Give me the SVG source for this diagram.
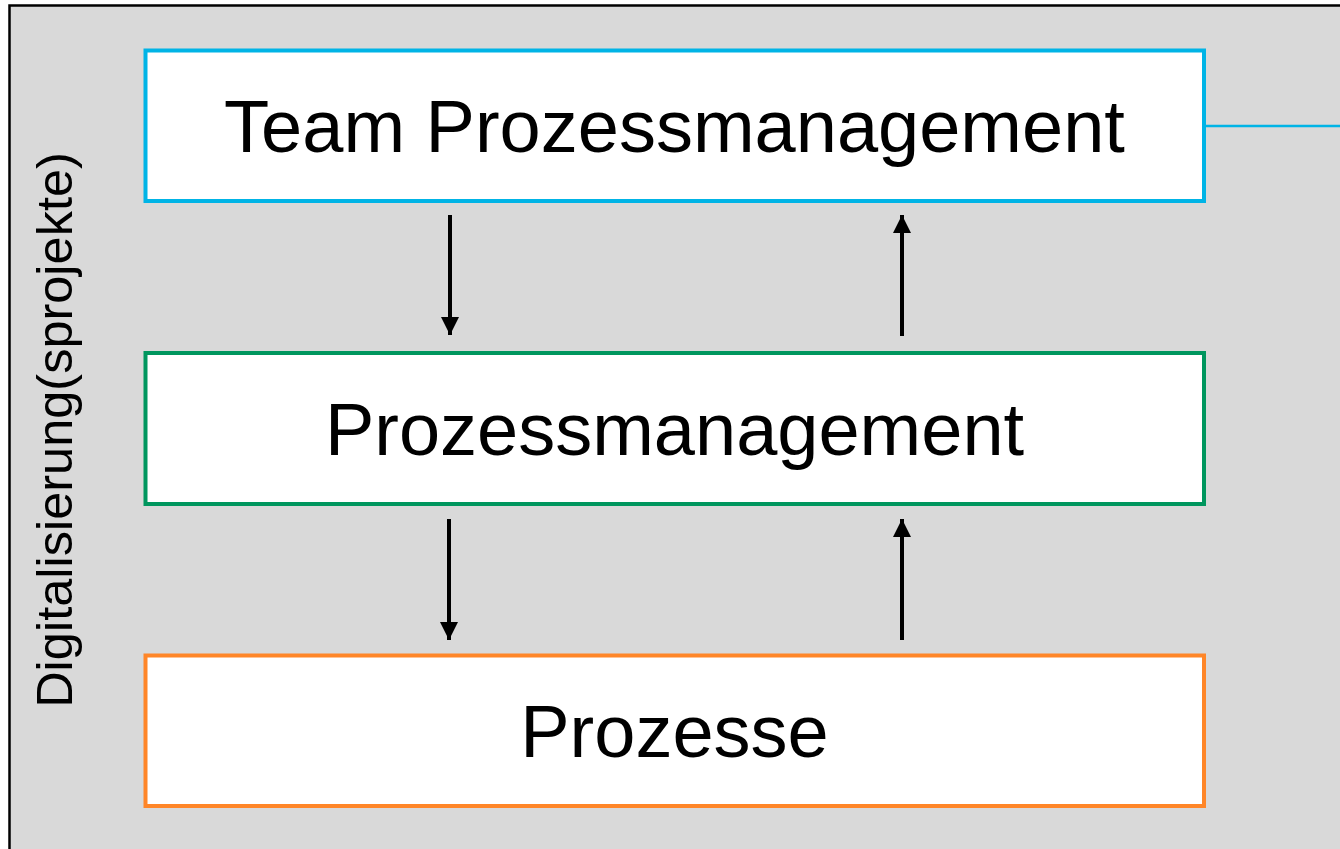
<svg xmlns="http://www.w3.org/2000/svg" width="1340" height="849" viewBox="0 0 1340 849">
  <style>
    .box { fill: #FFFFFF; stroke-width: 4; }
    .lbl { font-family: "Liberation Sans", Arial, sans-serif; font-size: 74px; fill: #000000; text-anchor: middle; }
    .side { font-family: "Liberation Sans", Arial, sans-serif; font-size: 50.5px; fill: #000000; text-anchor: middle; }
    .arr { stroke: #000000; stroke-width: 4; fill: none; }
  </style>
  <defs>
    <marker id="ah" viewBox="0 0 10 10" refX="10" refY="5" markerUnits="userSpaceOnUse" markerWidth="18" markerHeight="18" orient="auto">
      <path d="M0,0 L10,5 L0,10 Z" fill="#000000"/>
    </marker>
  </defs>
  <g id="frame">
    <rect x="9.5" y="5.5" width="1340" height="860" fill="#D9D9D9" stroke="#000000" stroke-width="2.5"/>
    <text class="side" transform="translate(72,430) rotate(-90)">Digitalisierung(sprojekte)</text>
  </g>
  <g id="connectors">
    <line x1="1206" y1="126" x2="1340" y2="126" stroke="#00B4E6" stroke-width="2.5"/>
    <line class="arr" x1="450" y1="215" x2="450" y2="335" marker-end="url(#ah)"/>
    <line class="arr" x1="902" y1="336" x2="902" y2="215" marker-end="url(#ah)"/>
    <line class="arr" x1="449" y1="519" x2="449" y2="640" marker-end="url(#ah)"/>
    <line class="arr" x1="902" y1="640" x2="902" y2="519" marker-end="url(#ah)"/>
  </g>
  <g id="team">
    <rect class="box" x="145.5" y="50.5" width="1058.5" height="150.5" stroke="#00B4E6"/>
    <text class="lbl" x="674.5" y="152">Team Prozessmanagement</text>
  </g>
  <g id="pm">
    <rect class="box" x="145.5" y="353" width="1058.5" height="151" stroke="#00965E"/>
    <text class="lbl" x="674.5" y="455">Prozessmanagement</text>
  </g>
  <g id="prozesse">
    <rect class="box" x="145.5" y="655.5" width="1058.5" height="150.5" stroke="#FF8628"/>
    <text class="lbl" x="674.5" y="757">Prozesse</text>
  </g>
</svg>
